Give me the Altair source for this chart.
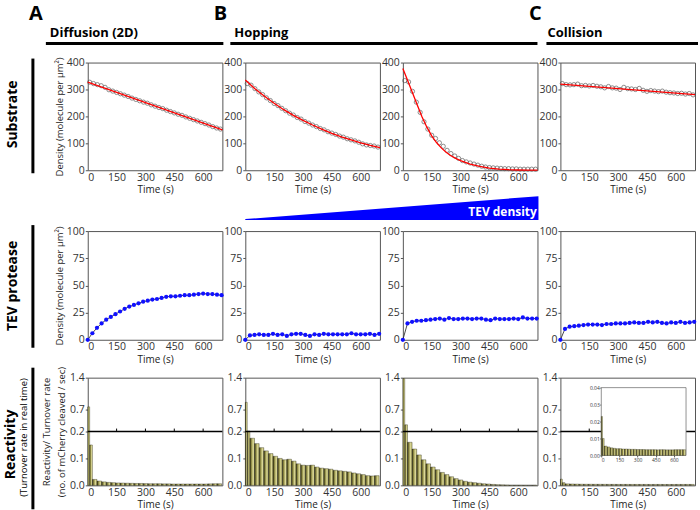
import altair as alt
import pandas as pd

FONT = "Open Sans"
W = 135
H1, H2, H3 = 108, 109, 108
TICKS = [0, 150, 300, 450, 600]

# ---------------- Row 1: substrate density ----------------
t_sub = [10, 30, 50, 70, 90, 110, 130, 150, 170, 190, 210, 230, 250, 270, 290, 310, 330, 350,
         370, 390, 410, 430, 450, 470, 490, 510, 530, 550, 570, 590, 610, 630, 650, 670, 690]
sub_A = [327, 322, 318, 314, 308, 299, 294, 289, 284, 279, 274, 268, 263, 258, 253, 249, 243, 238,
         233, 229, 223, 218, 213, 208, 204, 198, 193, 188, 183, 178, 173, 168, 162, 157, 153]
sub_B1 = [322, 316, 303, 291, 281, 269, 259, 248, 240, 230, 221, 212, 205, 196, 190, 181, 175, 168,
          162, 155, 150, 143, 138, 133, 127, 123, 117, 113, 109, 104, 98, 94, 92, 90, 86]
sub_B2 = [333, 328, 293, 253, 215, 180, 153, 130, 118, 102, 89, 74, 62, 53, 44, 36, 31, 27,
          23, 19, 15, 12, 10, 9, 8, 7, 6, 6, 5, 5, 4, 4, 4, 4, 4]
sub_C = [322, 318, 317, 318, 320, 314, 315, 313, 315, 312, 310, 306, 311, 306, 305, 300, 308, 303,
         302, 300, 304, 297, 293, 296, 294, 292, 294, 290, 288, 287, 285, 286, 283, 285, 280]

fit_t_lin = [0, 700]
fit_A = [327, 150]
fit_C = [320, 281]
fit_t_B1 = [0, 50, 100, 150, 200, 250, 300, 350, 400, 450, 500, 550, 600, 650, 700]
fit_B1 = [335, 303, 275, 249, 225, 204, 185, 168, 152, 137, 124, 113, 102, 92, 84]
fit_t_B2 = [0, 25, 50, 75, 100, 125, 150, 175, 200, 225, 250, 275, 300, 350, 400, 450, 500,
            550, 600, 650, 700]
fit_B2 = [378, 333, 288, 242, 198, 160, 128, 103, 83, 67, 54, 44, 36, 23, 14, 8, 4, 2, 1, 0.5, 0.3]

# ---------------- Row 2: TEV protease density ----------------
t_tev = [0, 24, 48, 72, 96, 120, 144, 168, 192, 216, 240, 264, 288, 312, 336, 360, 384, 408,
         432, 456, 480, 504, 528, 552, 576, 600, 624, 648, 672, 696]
tev_A = [0, 6, 11, 15, 18.5, 21, 23.5, 26, 28.5, 30.5, 32, 33.5, 35, 36, 37, 37.5, 38.5, 39.5,
         40, 40, 40.5, 41, 41, 41.5, 42, 42.5, 42, 42, 41.5, 41]
tev_B1 = [0, 4, 4.5, 5, 4.5, 4.5, 5.5, 4.5, 5, 3.5, 5, 5.5, 5.5, 4.5, 3.5, 5, 4.5, 5.5,
          5, 5, 5, 5, 5, 6, 5, 5, 5, 5.5, 4.5, 5.5]
tev_B2 = [0, 15, 16.5, 17.5, 17.5, 18, 18.5, 19, 19.5, 18.5, 20, 19, 19, 19.5, 19.5, 19, 19.5,
          19.5, 18.5, 18, 19.5, 19, 19, 19, 19.5, 19, 20.5, 19.5, 19.5, 19.5]
tev_C = [0, 10, 12, 12.5, 13, 13.5, 14, 14, 14, 13.5, 14.5, 14.5, 15, 15, 15, 15.5, 16, 15.5,
         15.5, 16.5, 16, 16.5, 15.5, 15, 16, 15.5, 16.5, 15.5, 16, 16.5]

# ---------------- Row 3: reactivity (turnover rate) ----------------
bin_start = [0, 10, 24, 48, 72, 96, 120, 144, 168, 192, 216, 240, 264, 288, 312, 336, 360,
             384, 408, 432, 456, 480, 504, 528, 552, 576, 600, 624, 648, 672]
bin_end = [10, 24, 48, 72, 96, 120, 144, 168, 192, 216, 240, 264, 288, 312, 336, 360, 384,
           408, 432, 456, 480, 504, 528, 552, 576, 600, 624, 648, 672, 696]
react_A = [0.75, 0.15,
           0.022, 0.016, 0.013, 0.011, 0.010, 0.009, 0.0085, 0.008, 0.0075, 0.007,
           0.007, 0.0065, 0.006, 0.006, 0.006, 0.0055, 0.0055, 0.005, 0.005, 0.005,
           0.005, 0.005, 0.005, 0.005, 0.005, 0.0055, 0.006, 0.006]
react_B1 = [0.85, 0.21,
            0.175, 0.155, 0.14, 0.128, 0.118, 0.108, 0.1, 0.095, 0.097, 0.09,
            0.08, 0.075, 0.074, 0.075, 0.068, 0.064, 0.062, 0.06, 0.056, 0.054,
            0.052, 0.05, 0.046, 0.043, 0.04, 0.036, 0.035, 0.036]
react_B2 = [1.38, 0.35,
            0.16, 0.135, 0.113, 0.095, 0.08, 0.068, 0.058, 0.048, 0.04, 0.032,
            0.025, 0.02, 0.015, 0.012, 0.01, 0.008, 0.006, 0.005, 0.0035, 0.0025,
            0.002, 0.0015, 0.001, 0.001, 0.001, 0.0008, 0.0008, 0.0008]
react_C = [0.023, 0.01,
           0.0055, 0.005, 0.0045, 0.0042, 0.004, 0.004, 0.0038, 0.0038, 0.0037, 0.0036,
           0.0036, 0.0035, 0.0035, 0.0035, 0.0034, 0.0034, 0.0034, 0.0034, 0.0033, 0.0034,
           0.0034, 0.0033, 0.0033, 0.0033, 0.0034, 0.0034, 0.0034, 0.0034]
BREAK = 0.2  # axis break value on the reactivity panels

YTITLE_DENS = "Density (molecule per µm²)"
YTITLE_REACT = ["Reactivity/ Turnover rate", "(no. of mCherry cleaved / sec)"]

one = pd.DataFrame({"k": [0]})

GRAD = alt.Gradient(
    gradient="linear", x1=0, x2=1, y1=0, y2=0,
    stops=[alt.GradientStop(color="#2a2910", offset=0),
           alt.GradientStop(color="#8a8640", offset=0.3),
           alt.GradientStop(color="#dedb98", offset=0.7),
           alt.GradientStop(color="#bcb86c", offset=1)])

X_SCALE = alt.Scale(domain=[0, 700], nice=False, zero=False)
X_AXIS = alt.Axis(values=TICKS, title="Time (s)", format="d", labelOverlap=False)


def x_enc(field="t"):
    return alt.X(f"{field}:Q", scale=X_SCALE, axis=X_AXIS)


def y_parts(values, domain, title, fmt="d", pad=2, rng=None):
    sc = alt.Scale(domain=domain, nice=False, zero=False, range=rng) if rng else \
        alt.Scale(domain=domain, nice=False, zero=False)
    ax = alt.Axis(values=values, format=fmt, titlePadding=pad, labelOverlap=False,
                  title=title if title is not None else "")
    return sc, ax


def sub_panel(vals, ft, fv, title=None):
    df = pd.DataFrame({"t": t_sub, "v": vals})
    fd = pd.DataFrame({"t": ft, "v": fv})
    sc, ax = y_parts([0, 100, 200, 300, 400], [0, 400], title)
    y = alt.Y("v:Q", scale=sc, axis=ax)
    pts = alt.Chart(df).mark_point(shape="circle", filled=False, size=18, color="#4a4a4a",
                                   strokeWidth=0.9).encode(x=x_enc(), y=y)
    line = alt.Chart(fd).mark_line(color="#ff0000", strokeWidth=1.3).encode(x=x_enc(), y=y)
    return [pts, line]


def tev_panel(vals, title=None):
    df = pd.DataFrame({"t": t_tev, "v": vals})
    sc, ax = y_parts([0, 25, 50, 75, 100], [0, 100], title)
    y = alt.Y("v:Q", scale=sc, axis=ax)
    line = alt.Chart(df).mark_line(color="#333333", strokeWidth=0.9).encode(x=x_enc(), y=y)
    pts = alt.Chart(df).mark_point(shape="circle", filled=True, size=18, color="#1010ff",
                                   opacity=1).encode(x=x_enc(), y=y)
    return [line, pts]


def react_main(vals, title=None):
    df = pd.DataFrame({"s": bin_start, "e": bin_end, "v": vals})
    sc, ax = y_parts([0, 0.1, 0.2, 0.7, 1.4], [0, BREAK, 1.4], title, fmt=".1f", pad=3,
                     rng=[H3, H3 / 2, 0])
    bars = alt.Chart(df).mark_rect(fill=GRAD, stroke="#1e1e10", strokeWidth=0.35).encode(
        x=x_enc("s"), x2="e:Q", y=alt.Y("v:Q", scale=sc, axis=ax), y2=alt.datum(0))
    rule = alt.Chart(one).mark_rule(color="black", strokeWidth=1.3).encode(
        y=alt.Y(datum=BREAK, scale=sc, axis=ax))
    tick_df = pd.DataFrame({"s": TICKS[1:]})
    bticks = alt.Chart(tick_df).mark_rule(color="black", strokeWidth=1).encode(
        x=x_enc("s"), y=alt.Y(datum=BREAK, scale=sc, axis=ax), y2=alt.datum(0.265))
    return [bars, rule, bticks]


def react_panel_inset(vals):
    main = alt.layer(*react_main(vals))
    df = pd.DataFrame({"s": bin_start, "e": bin_end, "v": vals})
    frame_df = pd.DataFrame({"s": [0], "e": [700], "v": [0], "v2": [0.04]})
    ix_scale = alt.Scale(domain=[0, 700], range=[41, 126], nice=False, zero=False)
    iy_scale = alt.Scale(domain=[0, 0.04], range=[78, 10], nice=False, zero=False)
    ix_axis = alt.Axis(orient="bottom", offset=-30, values=TICKS, title="", format="d",
                       labelFontSize=5, tickSize=1.5, labelPadding=0.5, labelOverlap=False)
    iy_axis = alt.Axis(orient="left", offset=-41, values=[0, 0.01, 0.02, 0.03, 0.04],
                       title="", format=".2f", labelFontSize=5, tickSize=1.5, labelPadding=0.5,
                       labelOverlap=False)
    ix = alt.X("s:Q", scale=ix_scale, axis=ix_axis)
    iy = alt.Y("v:Q", scale=iy_scale, axis=iy_axis)
    frame = alt.Chart(frame_df).mark_rect(fill="white", stroke="#777", strokeWidth=0.8).encode(
        x=ix, x2="e:Q", y=iy, y2="v2:Q")
    ibars = alt.Chart(df).mark_rect(fill=GRAD, stroke="#1e1e10", strokeWidth=0.3).encode(
        x=ix, x2="e:Q", y=iy, y2=alt.datum(0))
    inset = alt.layer(frame, ibars)
    return alt.layer(main, inset).resolve_scale(x="independent", y="independent").properties(
        width=W, height=H3)


# ---------------- decorations (pixel offsets relative to each row's first panel) ----------
def label(text, x, y, size, bold=False, angle=0, color="black", align="center"):
    return alt.Chart(one).mark_text(
        text=text, fontSize=size, fontWeight="bold" if bold else "normal", angle=angle,
        color=color, align=align, baseline="middle", font=FONT).encode(
        x=alt.value(x), y=alt.value(y))


def hbar(x1, x2, y, w):
    return alt.Chart(one).mark_rule(color="black", strokeWidth=w).encode(
        x=alt.value(x1), x2=alt.value(x2), y=alt.value(y))


def vbar(x, y1, y2, w):
    return alt.Chart(one).mark_rule(color="black", strokeWidth=w).encode(
        x=alt.value(x), y=alt.value(y1), y2=alt.value(y2))


def anchor(ox, oy, top, bottom):
    # invisible box fixing the extent of a row (absolute page coordinates)
    return alt.Chart(one).mark_rect(opacity=0).encode(
        x=alt.value(-ox), x2=alt.value(-ox + 1), y=alt.value(top - oy), y2=alt.value(bottom - oy))


OX = 87
OY1, OY2, OY3 = 61, 228, 373
OVERLAP = 18

tri_df = pd.DataFrame({"px": [245 - OX, 539 - OX], "top": [218 - OY1, 195 - OY1],
                       "bot": [219 - OY1, 219 - OY1]})
triangle = alt.Chart(tri_df).mark_area(color="#0000ff").encode(
    x=alt.X("px:Q", scale=None), y=alt.Y("top:Q", scale=None), y2="bot:Q")

decor1 = [
    anchor(OX, OY1, 0, 225),
    label("A", 35 - OX, 12 - OY1, 20, bold=True),
    label("B", 220 - OX, 12 - OY1, 20, bold=True),
    label("C", 536 - OX, 12 - OY1, 20, bold=True),
    label("Diffusion (2D)", 49 - OX, 31 - OY1, 13, bold=True, align="left"),
    label("Hopping", 234 - OX, 31 - OY1, 13, bold=True, align="left"),
    label("Collision", 548 - OX, 31 - OY1, 13, bold=True, align="left"),
    hbar(45 - OX, 223 - OX, 42 - OY1, 3),
    hbar(230 - OX, 538 - OX, 42 - OY1, 3),
    hbar(547 - OX, 699 - OX, 42 - OY1, 3),
    label("Substrate", 12 - OX, 113 - OY1, 14, bold=True, angle=270),
    vbar(32 - OX, 57 - OY1, 172 - OY1, 3),
    triangle,
    label("TEV density", 503 - OX, 211 - OY1, 12, bold=True, color="white"),
]
decor2 = [
    anchor(OX, OY2, 225 - OVERLAP, 370),
    label("TEV protease", 12 - OX, 283 - OY2, 14, bold=True, angle=270),
    vbar(32 - OX, 222 - OY2, 345 - OY2, 3),
]
decor3 = [
    anchor(OX, OY3, 370 - OVERLAP, 510),
    label("Reactivity", 10 - OX, 440 - OY3, 14, bold=True, angle=270),
    label("(Turnover rate in real time)", 23 - OX, 433 - OY3, 9.5, angle=270),
    vbar(32 - OX, 363 - OY3, 505 - OY3, 3),
]

p1A = alt.layer(*sub_panel(sub_A, fit_t_lin, fit_A, YTITLE_DENS), *decor1).properties(width=W, height=H1)
p1B1 = alt.layer(*sub_panel(sub_B1, fit_t_B1, fit_B1)).properties(width=W, height=H1)
p1B2 = alt.layer(*sub_panel(sub_B2, fit_t_B2, fit_B2)).properties(width=W, height=H1)
p1C = alt.layer(*sub_panel(sub_C, fit_t_lin, fit_C)).properties(width=W, height=H1)

p2A = alt.layer(*tev_panel(tev_A, YTITLE_DENS), *decor2).properties(width=W, height=H2)
p2B1 = alt.layer(*tev_panel(tev_B1)).properties(width=W, height=H2)
p2B2 = alt.layer(*tev_panel(tev_B2)).properties(width=W, height=H2)
p2C = alt.layer(*tev_panel(tev_C)).properties(width=W, height=H2)

p3A = alt.layer(*react_main(react_A, YTITLE_REACT), *decor3).properties(width=W, height=H3)
p3B1 = alt.layer(*react_main(react_B1)).properties(width=W, height=H3)
p3B2 = alt.layer(*react_main(react_B2)).properties(width=W, height=H3)
p3C = react_panel_inset(react_C)

row1 = alt.hconcat(p1A, p1B1, p1B2, p1C, spacing=23, bounds="flush")
row2 = alt.hconcat(p2A, p2B1, p2B2, p2C, spacing=23, bounds="flush")
row3 = alt.hconcat(p3A, p3B1, p3B2, p3C, spacing=23, bounds="flush")

chart = alt.vconcat(row1, row2, row3, spacing=-OVERLAP).properties(
    padding=0, background="white"
).configure_view(
    stroke="#555555", strokeWidth=1
).configure_axis(
    domain=False, grid=False, labelFont=FONT, titleFont=FONT, labelFontSize=10.5,
    titleFontSize=9.5, labelColor="#333333", titleColor="#222222", tickColor="#555555",
    tickSize=2.5, labelPadding=1, titleFontWeight="normal"
).configure_axisX(
    titlePadding=2, tickSize=0, labelPadding=2, titleFontSize=10
).configure_axisY(
    titleLineHeight=15
)

chart.save("out.html", embed_options={"renderer": "svg", "actions": False})
